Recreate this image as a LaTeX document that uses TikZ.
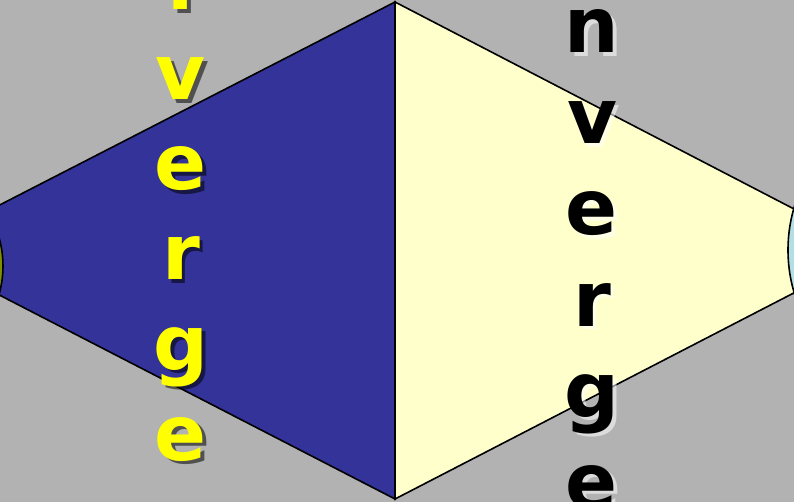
\documentclass[tikz,border=0pt]{standalone}
\usepackage{fontspec}
\setmainfont{DejaVu Sans}
\usepackage{xcolor}
\usetikzlibrary{positioning}

\definecolor{slidegray}{RGB}{178,178,178}
\definecolor{divblue}{RGB}{51,51,153}
\definecolor{convcream}{RGB}{255,255,204}
\definecolor{divyellow}{RGB}{255,255,0}
\definecolor{tipcyan}{RGB}{178,222,228}
\definecolor{tipolive}{RGB}{128,145,0}

\begin{document}
\begin{tikzpicture}[x=1bp, y=-1bp,
  outline/.style={draw=black, line width=1.6bp, line join=miter},
  bigletter/.style={inner sep=0pt, anchor=base, font=\fontsize{77}{90}\selectfont\bfseries},
  divletter/.style={bigletter, text=divyellow},
  convletter/.style={bigletter, text=black},
  blur/.style={bigletter, text=#1, opacity=0.55}]
  \useasboundingbox (0,0) rectangle (794,502);
  \clip (0,0) rectangle (794,502);
  \fill[slidegray] (0,0) rectangle (794,502);
  % the two halves of the kite
  \coordinate (top) at (395,2);
  \coordinate (bot) at (395,499);
  \coordinate (ltip) at (-88,250);
  \coordinate (rtip) at (875,251);
  \filldraw[outline, fill=divblue] (top) -- (ltip) -- (bot) -- cycle;
  \filldraw[outline, fill=convcream] (top) -- (rtip) -- (bot) -- cycle;
  % end circles
  \filldraw[outline, fill=tipolive] (-100,266) circle[radius=103];
  \filldraw[outline, fill=tipcyan] (938,250) circle[radius=150];
  % vertical words, each letter with its shadow
  \foreach \ch [count=\k from 0] in {i,v,e,r,g,e} {
    \node[blur=black] at (184.5,13.5+90*\k) {\ch};
    \node[divletter] (div\k) at (181,10+90*\k) {\ch};
  }
  \foreach \ch [count=\k from 0] in {n,v,e,r,g,e} {
    \node[blur=white] at (595.5,56.5+91*\k) {\ch};
    \node[convletter] (conv\k) at (592,53+91*\k) {\ch};
  }
\end{tikzpicture}
\end{document}
